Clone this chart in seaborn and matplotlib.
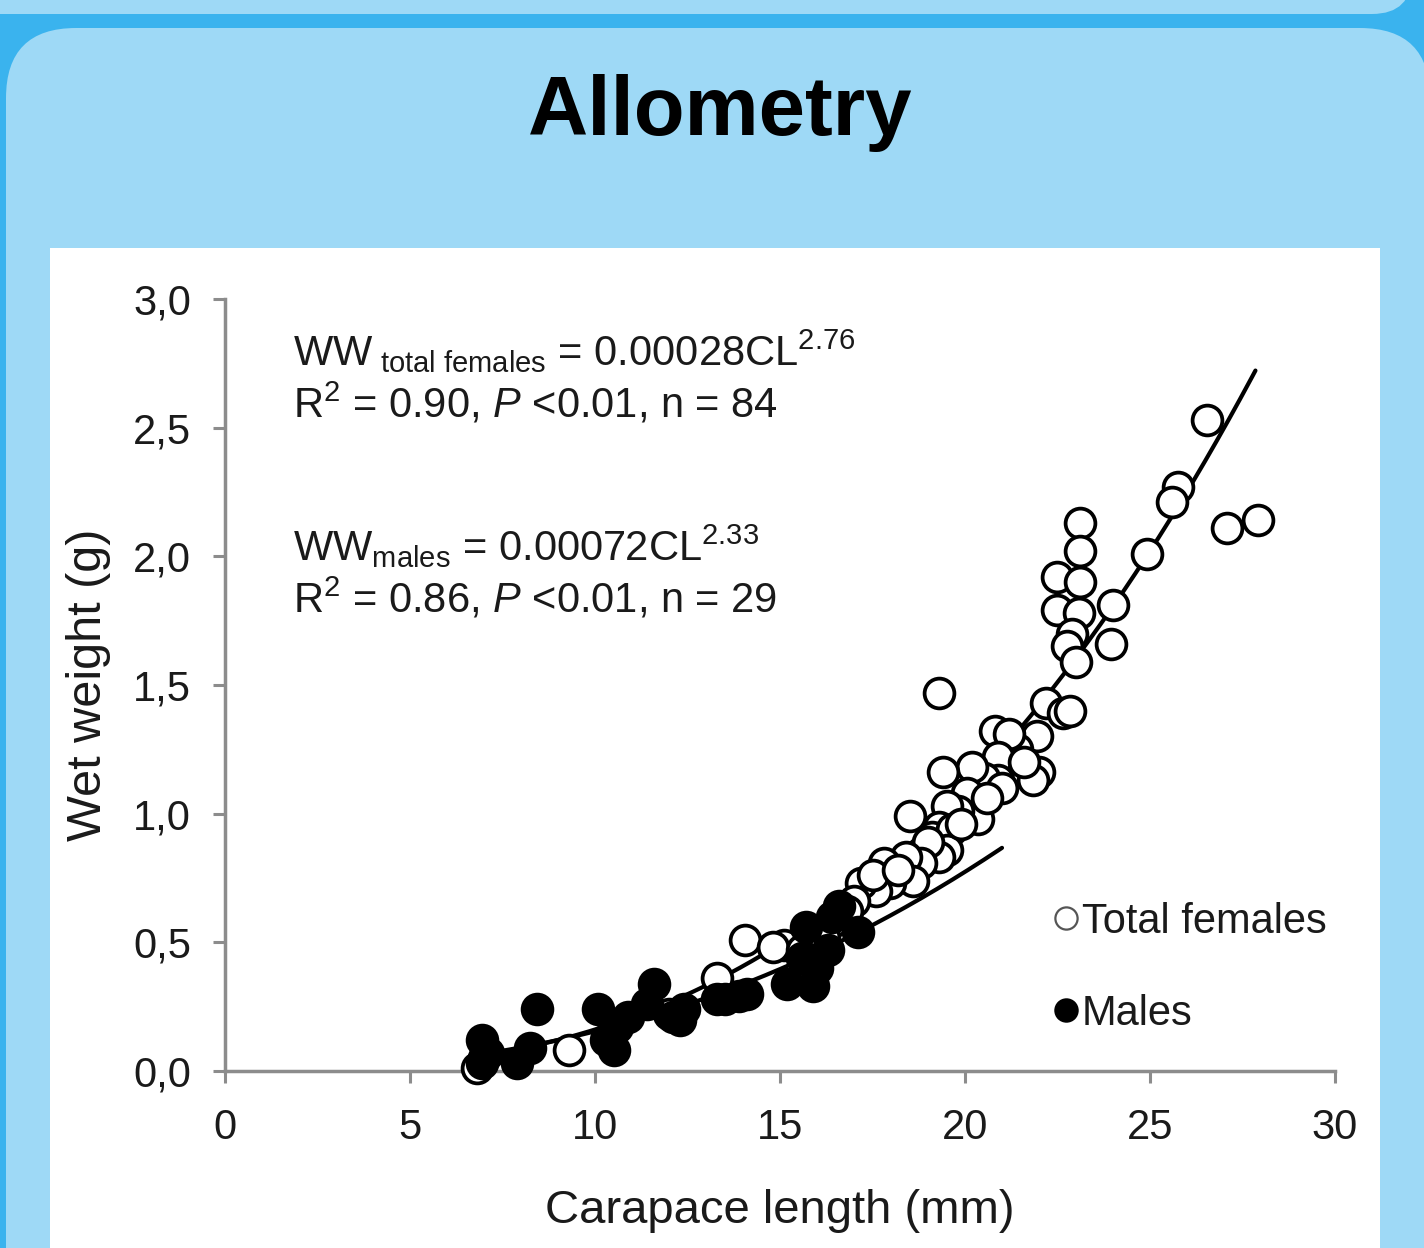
import matplotlib.pyplot as plt
import numpy as np
import seaborn as sns
from matplotlib.lines import Line2D
from matplotlib.patches import FancyBboxPatch, Rectangle


# open circles: total females (carapace length mm, wet weight g)
FEMALE_CL = [26.55, 25.75, 25.6, 27.08, 27.92, 24.92, 24.0, 23.95, 23.11, 23.11,
             22.49, 23.11, 22.49, 23.08, 22.89, 22.76, 23.0, 22.2, 22.65, 22.84,
             21.95, 22.0, 21.85, 19.3, 21.4, 20.8, 21.2, 20.9, 20.9, 20.5,
             20.2, 19.4, 20.05, 20.35, 19.8, 19.5, 19.3, 19.1, 19.65, 19.5,
             19.3, 18.5, 19.0, 18.8, 18.4, 18.6, 17.8, 17.97, 17.6, 17.2,
             17.0, 16.8, 17.5, 18.2, 21.6, 21.0, 20.6, 19.9, 14.05, 15.1,
             14.8, 13.3, 9.3, 6.8, 7.0, 15.6, 12.0, 10.4, 16.4, 16.2]
FEMALE_WW = [2.53, 2.27, 2.21, 2.11, 2.14, 2.01, 1.81, 1.66, 2.13, 2.02,
             1.92, 1.90, 1.79, 1.78, 1.70, 1.65, 1.59, 1.43, 1.39, 1.40,
             1.30, 1.16, 1.13, 1.47, 1.25, 1.32, 1.31, 1.22, 1.13, 1.14,
             1.18, 1.16, 1.08, 0.98, 1.01, 1.03, 0.95, 0.91, 0.94, 0.86,
             0.83, 0.99, 0.89, 0.81, 0.83, 0.74, 0.81, 0.73, 0.70, 0.73,
             0.66, 0.62, 0.76, 0.78, 1.20, 1.10, 1.06, 0.96, 0.51, 0.49,
             0.48, 0.36, 0.08, 0.01, 0.05, 0.47, 0.22, 0.13, 0.58, 0.52]

# filled circles: males
MALE_CL = [6.95, 6.95, 7.1, 7.9, 8.43, 8.24, 10.08, 10.3, 10.5, 10.6,
           10.9, 11.6, 11.4, 12.1, 12.4, 12.3, 13.3, 13.5, 13.9, 14.1,
           15.2, 15.7, 15.9, 15.6, 16.3, 16.4, 16.6, 17.1, 16.0]
MALE_WW = [0.12, 0.03, 0.07, 0.03, 0.24, 0.09, 0.24, 0.12, 0.08, 0.17,
           0.21, 0.34, 0.26, 0.21, 0.24, 0.20, 0.28, 0.28, 0.29, 0.30,
           0.34, 0.56, 0.33, 0.44, 0.47, 0.60, 0.64, 0.54, 0.40]

# fitted power curves WW = a * CL^b, as printed on the chart
FEMALE_A, FEMALE_B, FEMALE_RANGE = 0.00028, 2.76, (7.0, 27.85)
MALE_A, MALE_B, MALE_RANGE = 0.00072, 2.33, (7.0, 21.0)

X_TICKS = [0, 5, 10, 15, 20, 25, 30]
Y_TICKS = [0.0, 0.5, 1.0, 1.5, 2.0, 2.5, 3.0]
Y_TICK_LABELS = ["0,0", "0,5", "1,0", "1,5", "2,0", "2,5", "3,0"]

LIGHT_BLUE = "#9ed9f6"
DARK_BLUE = "#3ab3ee"
INK = "#1a1a1a"
W, H = 1424, 1248

sns.set_style("ticks")
plt.rcParams["font.family"] = ["Liberation Sans", "DejaVu Sans"]
plt.rcParams["mathtext.fontset"] = "custom"
plt.rcParams["mathtext.rm"] = "Liberation Sans"
plt.rcParams["mathtext.it"] = "Liberation Sans:italic"
plt.rcParams["mathtext.default"] = "regular"

fig = plt.figure(figsize=(W / 100, H / 100), dpi=100, facecolor=DARK_BLUE)

# slide background, drawn in pixel units
bg = fig.add_axes([0, 0, 1, 1], zorder=0)
bg.set_xlim(0, W)
bg.set_ylim(H, 0)
bg.axis("off")
bg.add_patch(FancyBboxPatch((-100, -100), 1512, 114,
                            boxstyle="round,pad=0,rounding_size=40",
                            fc=LIGHT_BLUE, ec="none"))
bg.add_patch(FancyBboxPatch((6, 28), 1424, 1400,
                            boxstyle="round,pad=0,rounding_size=70",
                            fc=LIGHT_BLUE, ec="none"))
bg.add_patch(Rectangle((50, 248), 1330, 1100, fc="white", ec="none"))
bg.text(720, 135, "Allometry", ha="center", va="baseline", fontsize=60,
        fontweight="bold", color="black")

ax = fig.add_axes([225 / W, 1 - 1071 / H, 1110 / W, 772 / H], zorder=1)
ax.patch.set_alpha(0)

for a, b, (lo, hi) in [(FEMALE_A, FEMALE_B, FEMALE_RANGE), (MALE_A, MALE_B, MALE_RANGE)]:
    cl = np.linspace(lo, hi, 200)
    sns.lineplot(x=cl, y=a * cl ** b, ax=ax, color="black", linewidth=3.0, zorder=2)

sns.scatterplot(x=FEMALE_CL, y=FEMALE_WW, ax=ax, s=460, color="white",
                edgecolor="black", linewidth=2.7, zorder=3, clip_on=False)
sns.scatterplot(x=MALE_CL, y=MALE_WW, ax=ax, s=460, color="black",
                edgecolor="black", linewidth=2.7, zorder=4, clip_on=False)

ax.set_xlim(0, 30)
ax.set_ylim(0, 3.0)
ax.set_xticks(X_TICKS)
ax.set_xticklabels([str(t) for t in X_TICKS])
ax.set_yticks(Y_TICKS)
ax.set_yticklabels(Y_TICK_LABELS)
ax.tick_params(axis="both", direction="out", length=8.5, width=2.2,
               color="#8c8c8c", labelsize=30, labelcolor=INK)
ax.tick_params(axis="x", pad=18)
ax.tick_params(axis="y", pad=16)
for side in ["top", "right"]:
    ax.spines[side].set_visible(False)
for side in ["left", "bottom"]:
    ax.spines[side].set_color("#8c8c8c")
    ax.spines[side].set_linewidth(2.5)

ax.set_xlabel("Carapace length (mm)", fontsize=34, color=INK, labelpad=30)
ax.set_ylabel("Wet weight (g)", fontsize=35, color=INK, labelpad=16)

notes = [
    (2.74, r"WW$_{\mathrm{\ total\ females}}$ = $\mathit{0.00028}$CL$^{\mathit{2.76}}$"),
    (2.54, r"R$^{2}$ = 0.90, $\mathit{P}$ <0.01, n = 84"),
    (1.98, r"WW$_{\mathrm{males}}$ = $\mathit{0.00072}$CL$^{\mathit{2.33}}$"),
    (1.78, r"R$^{2}$ = 0.86, $\mathit{P}$ <0.01, n = 29"),
]
for y, txt in notes:
    ax.text(1.84, y, txt, fontsize=30, color=INK, va="baseline")

handles = [
    Line2D([], [], marker="o", linestyle="none", markersize=16,
           markerfacecolor="white", markeredgecolor="#555555", markeredgewidth=1.6),
    Line2D([], [], marker="o", linestyle="none", markersize=16,
           markerfacecolor="black", markeredgecolor="black", markeredgewidth=1.6),
]
ax.legend(handles, ["Total females", "Males"], loc="upper left",
          bbox_to_anchor=(0.747, 0.219), frameon=False, fontsize=30,
          handlelength=0.55, handletextpad=0.12, labelspacing=1.25,
          borderpad=0, borderaxespad=0, labelcolor=INK)

fig.savefig("out.png", dpi=100, facecolor=fig.get_facecolor())
